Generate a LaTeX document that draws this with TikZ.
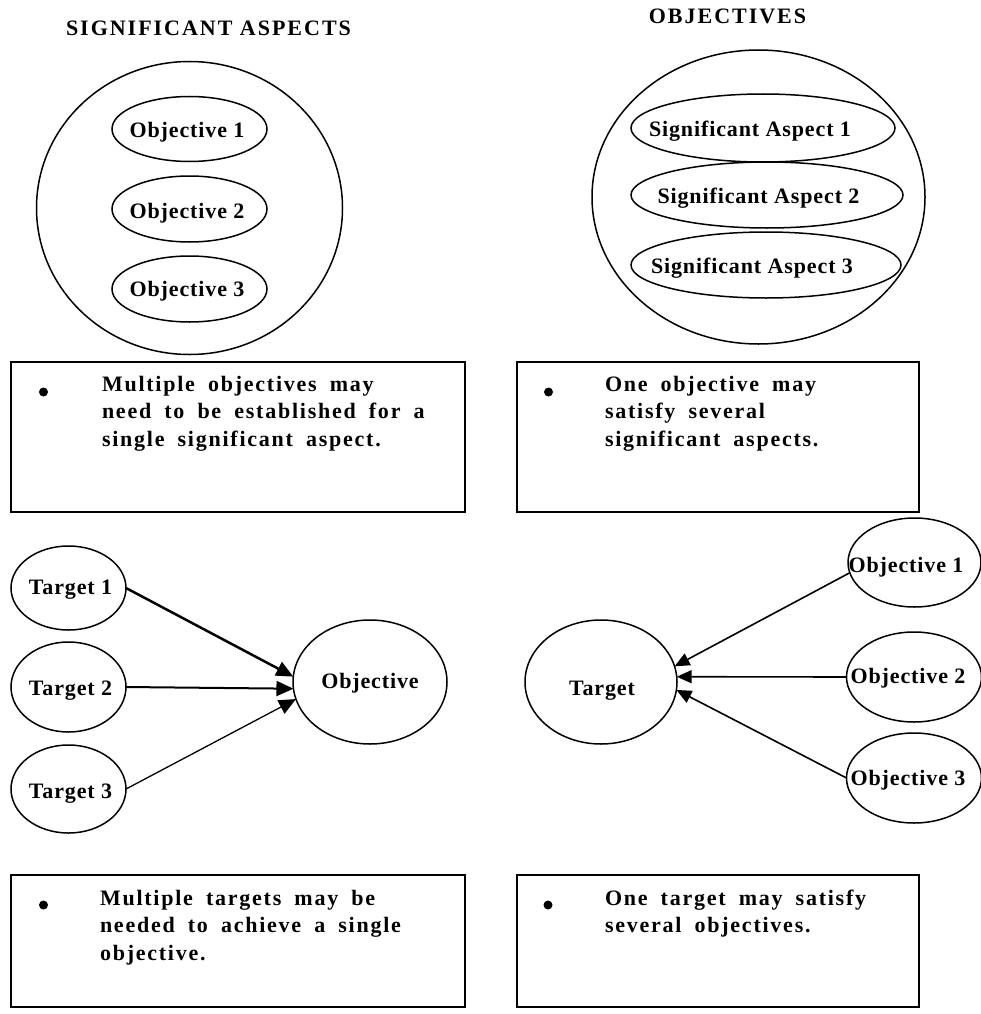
\documentclass[tikz,border=0pt]{standalone}
\usepackage{fontspec}
\setmainfont{Liberation Serif}
\newfontfamily\boxfont{Liberation Serif}[LetterSpace=8,WordSpace=1.8]
\usetikzlibrary{shapes.geometric,arrows.meta}
\begin{document}
\begin{tikzpicture}[x=1pt,y=-1pt,
  every node/.style={inner sep=0pt, outer sep=0pt},
  lbl/.style={font=\fontsize{22}{26}\selectfont\bfseries\addfontfeatures{LetterSpace=4}, anchor=base},
  ttl/.style={font=\fontsize{22}{26}\selectfont\bfseries\addfontfeatures{LetterSpace=9}, anchor=base},
  txt/.style={font=\boxfont\fontsize{22}{27.5}\selectfont\bfseries, anchor=base west},
  oval/.style={ellipse, draw, line width=1.5pt},
  box/.style={rectangle, draw, line width=2pt, anchor=north west},
  dot/.style={circle, fill=black, minimum size=9pt},
  arr/.style={line width=#1, -{Triangle[length=17pt,width=15pt]}},
  arr/.default=2pt,
  rarr/.style={line width=1.6pt, -{Triangle[length=15pt,width=13pt]}}
]
\useasboundingbox (0,0) rectangle (981,1014);

% ---------- top left ----------
\node[ttl] (t1) at (208.5,36) {SIGNIFICANT ASPECTS};
\node[oval, minimum width=306pt, minimum height=293pt] (cl) at (189.5,208) {};
\node[oval, minimum width=155pt, minimum height=65pt] (lo1) at (189.5,129) {};
\node[oval, minimum width=155pt, minimum height=66pt] (lo2) at (189.5,209) {};
\node[oval, minimum width=155pt, minimum height=66pt] (lo3) at (189.5,289) {};
\node[lbl] (lo1t) at (187,138) {Objective 1};
\node[lbl] (lo2t) at (187,218) {Objective 2};
\node[lbl] (lo3t) at (187,296) {Objective 3};

% ---------- top right ----------
\node[ttl] (t2) at (727.5,24) {OBJECTIVES};
\node[oval, minimum width=333pt, minimum height=294pt] (cr) at (758.5,197) {};
\node[oval, minimum width=264pt, minimum height=68pt] (sa1) at (763,128) {};
\node[oval, minimum width=272pt, minimum height=66pt] (sa2) at (767,195) {};
\node[oval, minimum width=270pt, minimum height=66pt] (sa3) at (766,265) {};
\node[lbl] (sa1t) at (750,136) {Significant Aspect 1};
\node[lbl] (sa2t) at (758.5,203) {Significant Aspect 2};
\node[lbl] (sa3t) at (752,273) {Significant Aspect 3};

% ---------- upper text boxes ----------
\node[box, minimum width=454pt, minimum height=150pt] (b1) at (11,362) {};
\node[dot] (d1) at (43.5,392) {};
\node[txt] (b1t) at (102,391) {\begin{tabular}[t]{@{}l@{}}Multiple objectives may\\ need to be established for a\\ single significant aspect.\end{tabular}};

\node[box, minimum width=402pt, minimum height=150pt] (b2) at (517,362) {};
\node[dot] (d2) at (548.5,392) {};
\node[txt] (b2t) at (605,391) {\begin{tabular}[t]{@{}l@{}}One objective may\\ satisfy several\\ significant aspects.\end{tabular}};

% ---------- bottom left ----------
\node[oval, minimum width=115pt, minimum height=84pt] (ta1) at (68.5,588) {};
\node[oval, minimum width=115pt, minimum height=90pt] (ta2) at (68.5,687) {};
\node[oval, minimum width=115pt, minimum height=88pt] (ta3) at (68.5,789) {};
\node[lbl] (ta1t) at (70.5,594) {Target 1};
\node[lbl] (ta2t) at (70.5,695) {Target 2};
\node[lbl] (ta3t) at (70.5,798) {Target 3};
\node[oval, minimum width=154pt, minimum height=124pt] (ob) at (370,682) {};
\node[lbl] (obt) at (370,688) {Objective};
\draw[arr=2.5pt] (ta1.east) -- (ob.176);
\draw[arr=2pt] (ta2.east) -- (ob.185);
\draw[arr=1.3pt] (ta3.east) -- (ob.193);

% ---------- bottom right ----------
\node[oval, minimum width=152pt, minimum height=124pt] (tg) at (601,682) {};
\node[lbl] (tgt) at (602,695) {Target};
\node[oval, minimum width=133pt, minimum height=89pt] (ro1) at (914.5,562.5) {};
\node[oval, minimum width=135pt, minimum height=90pt] (ro2) at (914,677) {};
\node[oval, minimum width=135pt, minimum height=90pt] (ro3) at (914,778) {};
\node[lbl] (ro1t) at (906,572) {Objective 1};
\node[lbl] (ro2t) at (908,683) {Objective 2};
\node[lbl] (ro3t) at (908,785) {Objective 3};
\draw[rarr] (ro1.189) -- (tg.12);
\draw[rarr] (ro2.west) -- (tg.4);
\draw[rarr] (ro3.west) -- (tg.-6);

% ---------- lower text boxes ----------
\node[box, minimum width=454pt, minimum height=132pt] (b3) at (11,875) {};
\node[dot] (d3) at (43.5,905) {};
\node[txt] (b3t) at (100,905) {\begin{tabular}[t]{@{}l@{}}Multiple targets may be\\ needed to achieve a single\\ objective.\end{tabular}};

\node[box, minimum width=402pt, minimum height=132pt] (b4) at (517,875) {};
\node[dot] (d4) at (548,905) {};
\node[txt] (b4t) at (605,905) {\begin{tabular}[t]{@{}l@{}}One target may satisfy\\ several objectives.\end{tabular}};
\end{tikzpicture}
\end{document}
